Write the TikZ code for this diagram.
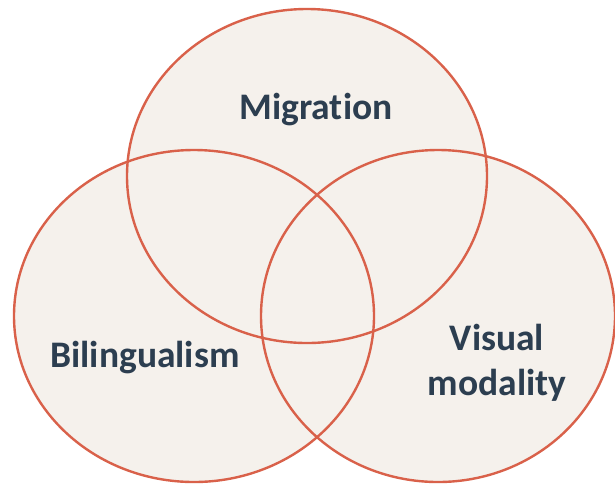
\documentclass[tikz,border=0pt]{standalone}
\usepackage{fontspec}
\setmainfont[RawFeature=-liga]{Carlito}
\definecolor{ringfill}{HTML}{F5F1EC}
\definecolor{ringline}{HTML}{D9614A}
\definecolor{labelink}{HTML}{2C3E50}
\begin{document}
\begin{tikzpicture}[x=1pt,y=-1pt,
  ring/.style={draw=ringline,line width=2.4pt},
  label/.style={text=labelink,font=\fontsize{37.5}{45}\selectfont\bfseries,align=center}]
\useasboundingbox (0,0) rectangle (615,483);
% filled discs first, outlines on top
\fill[ringfill] (307,176) ellipse [x radius=180,y radius=167];
\fill[ringfill] (194,316) ellipse [x radius=180,y radius=166];
\fill[ringfill] (438,316) ellipse [x radius=177,y radius=166];
\draw[ring] (307,176) ellipse [x radius=180,y radius=167];
\draw[ring] (194,316) ellipse [x radius=180,y radius=166];
\draw[ring] (438,316) ellipse [x radius=177,y radius=166];
\node[label] (mig) at (316,110) {Migration};
\node[label] (bil) at (145,358) {Bilingualism};
\node[label] (vis) at (497,363) {Visual\\modality};
\end{tikzpicture}
\end{document}
